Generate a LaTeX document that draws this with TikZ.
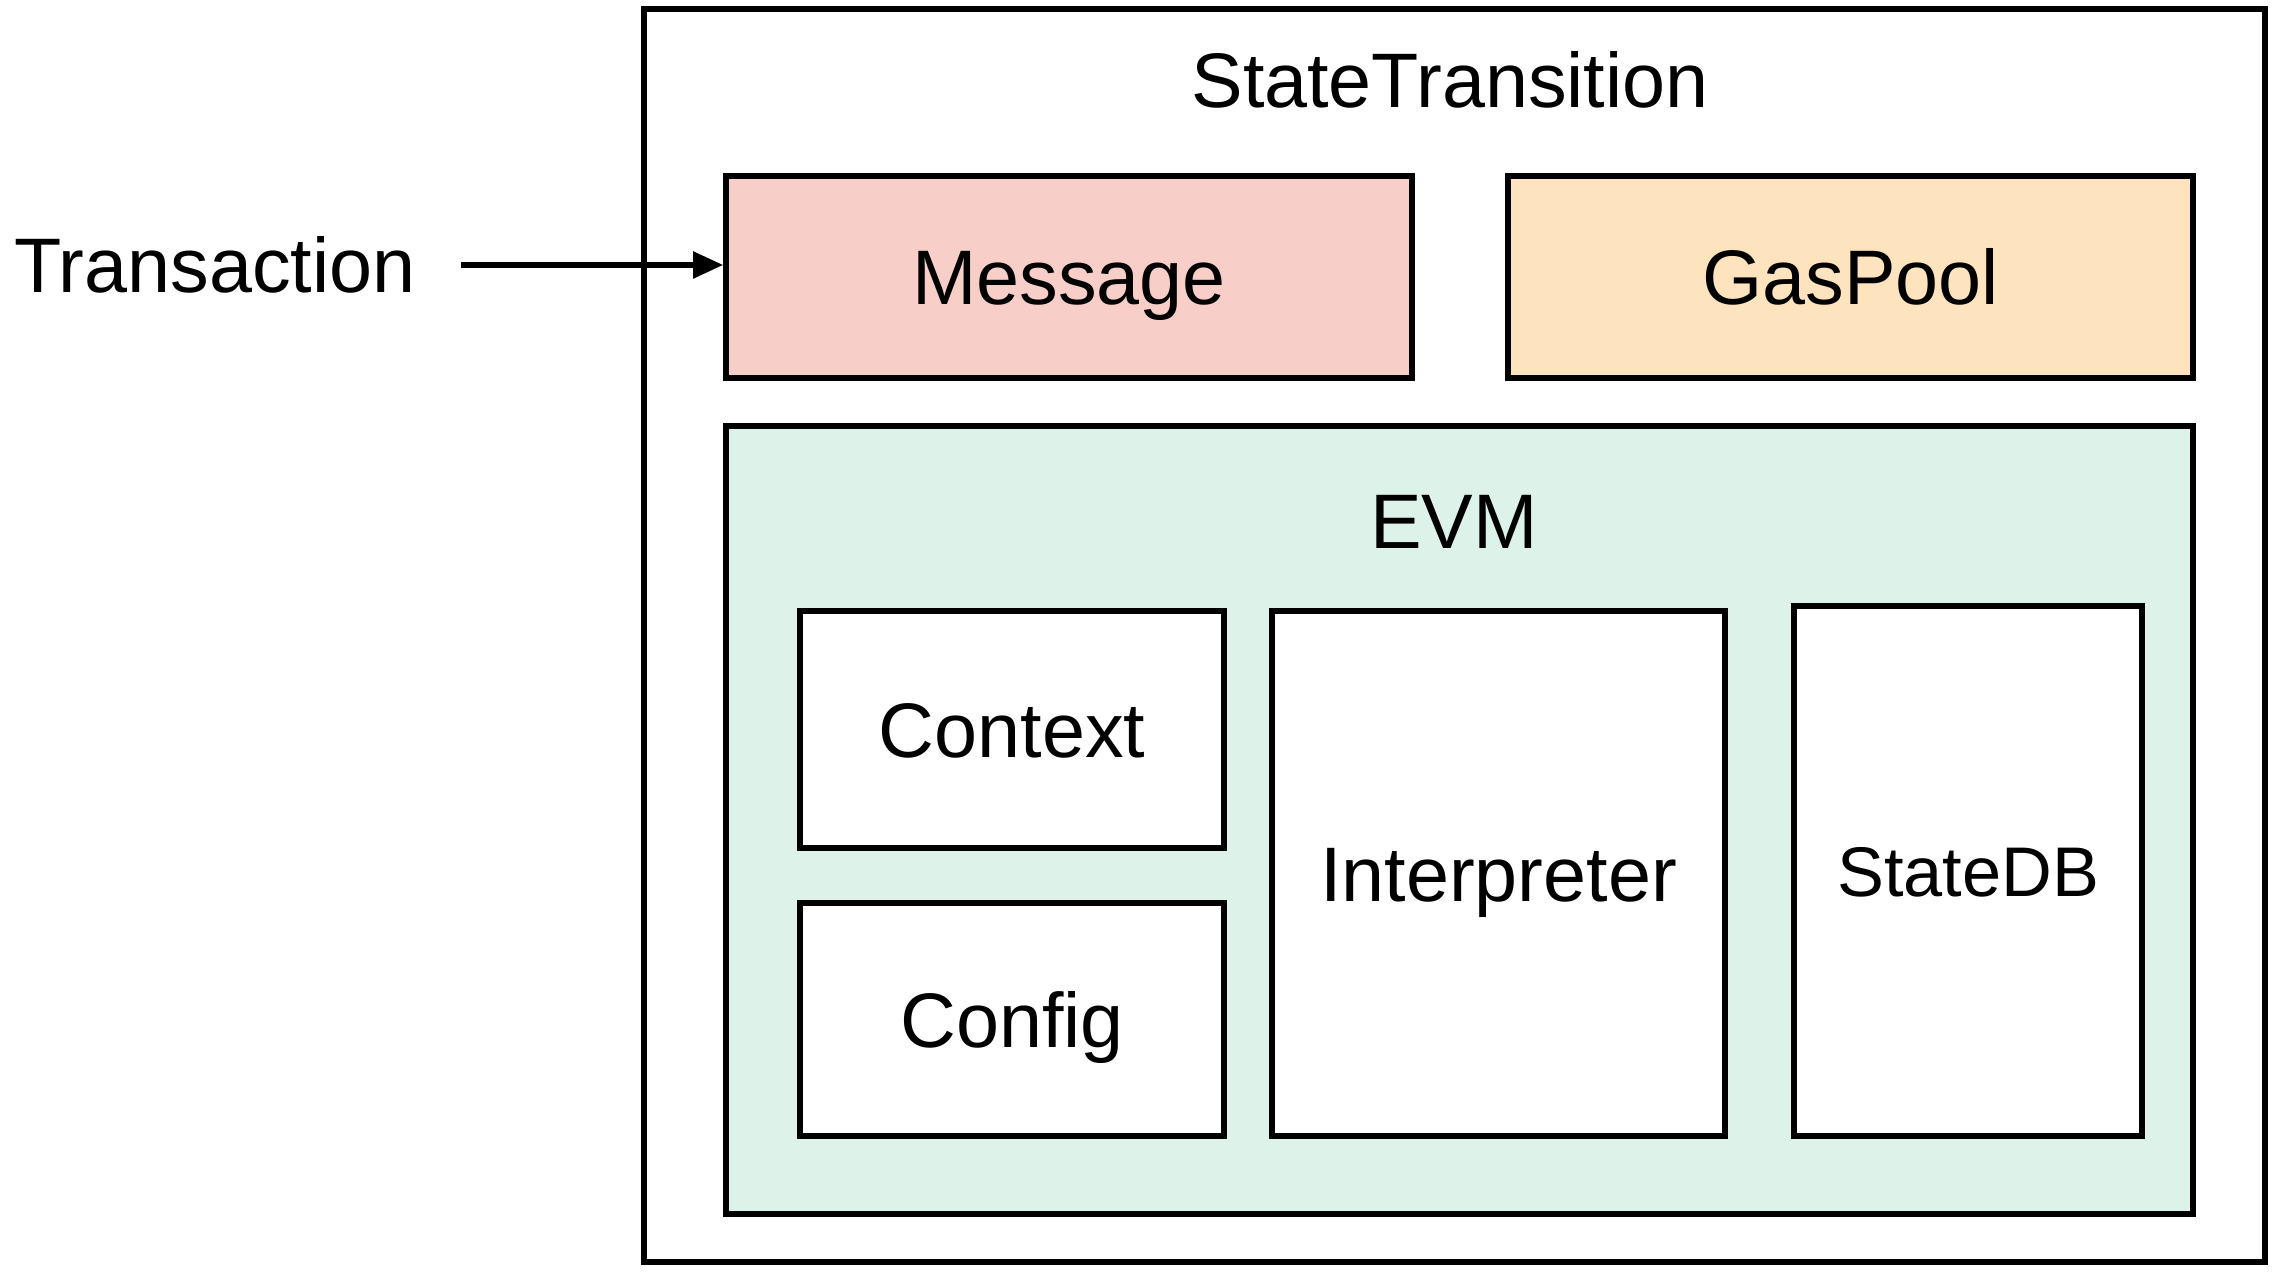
\documentclass[tikz,border=0pt]{standalone}
\usepackage{fontspec}
\setmainfont{Liberation Sans}
\usetikzlibrary{arrows.meta}
\definecolor{msgred}{RGB}{248,206,200}
\definecolor{gasorange}{RGB}{254,228,190}
\definecolor{evmgreen}{RGB}{221,242,232}

\begin{document}
\begin{tikzpicture}[
	box/.style={draw=black, line width=1.6pt, inner sep=0pt, font=\fontsize{22}{26}\selectfont, text height=15.8pt, text depth=0pt},
	lbl/.style={inner sep=0pt, font=\fontsize{22}{26}\selectfont, text height=15.8pt, text depth=0pt}
	]
		%%%%% START %%%%%
		
		\useasboundingbox (0, 0) rectangle (22.8, 12.72);
		
		\node[box, minimum width=16.21cm, minimum height=12.53cm] (st) at (14.545, 6.365) {};
		\node[lbl] (stlbl) at (14.50, 11.92) {StateTransition};
		
		\node[box, fill=msgred, minimum width=6.86cm, minimum height=2.02cm] (msg) at (10.69, 9.95) {Message};
		\node[box, fill=gasorange, minimum width=6.85cm, minimum height=2.02cm] (gas) at (18.505, 9.95) {GasPool};
		
		\node[box, fill=evmgreen, minimum width=14.67cm, minimum height=7.88cm] (evm) at (14.595, 4.52) {};
		\node[lbl] (evmlbl) at (14.54, 7.51) {EVM};
		
		\node[box, fill=white, minimum width=4.24cm, minimum height=2.37cm] (ctx) at (10.12, 5.425) {Context};
		\node[box, fill=white, minimum width=4.24cm, minimum height=2.33cm] (cfg) at (10.12, 2.525) {Config};
		\node[box, fill=white, minimum width=4.53cm, minimum height=5.25cm] (interp) at (14.985, 3.985) {Interpreter};
		\node[box, fill=white, minimum width=3.48cm, minimum height=5.30cm, font=\fontsize{20}{24}\selectfont, text height=14.3pt] (sdb) at (19.68, 4.01) {StateDB};
		
		\node[lbl, inner xsep=0.45cm] (tx) at (2.15, 10.07) {Transaction};
		\draw[line width=1.5pt, -{Triangle[length=0.3cm, width=0.26cm]}] (tx.east) -- (msg.west |- tx.east);
		
		%%%%% END %%%%%
	\end{tikzpicture}
\end{document}
